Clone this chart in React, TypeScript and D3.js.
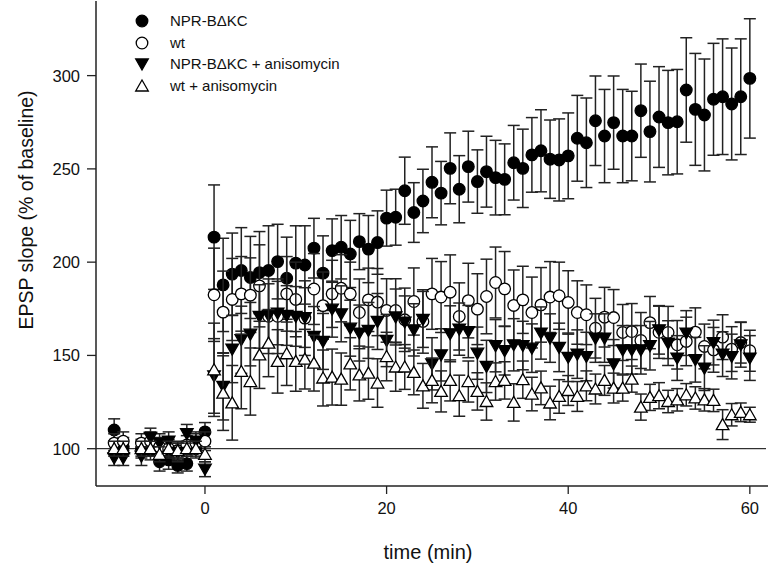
import React from 'react';
import * as d3 from 'd3';

// ---------- data ----------
const baselineTime = [-10, -9, -7, -6, -5, -4, -3, -2, -1, 0];
const postTime = [
  1, 2, 3, 4, 5, 6, 7, 8, 9, 10, 11, 12, 13, 14, 15, 16, 17, 18, 19, 20,
  21, 22, 23, 24, 25, 26, 27, 28, 29, 30, 31, 32, 33, 34, 35, 36, 37, 38, 39, 40,
  41, 42, 43, 44, 45, 46, 47, 48, 49, 50, 51, 52, 53, 54, 55, 56, 57, 58, 59, 60,
];

const nprBaseline = [110, 101, 100, 99, 93, 94, 91, 92, 100, 109];
const nprBaselineErr = [6, 5, 5, 5, 5, 5, 4, 4, 5, 5];
const nprPost = [
  213.4, 187.8, 193.6, 195.5, 191.8, 194.4, 195.5, 200.3, 191.4, 199.5,
  198.5, 207.5, 194.1, 206.2, 208, 204.4, 211, 207, 210.5, 223.6,
  224.1, 238.3, 226.6, 232.8, 242.8, 237, 250.3, 239.1, 251.2, 243.2,
  248.5, 245.3, 244.4, 253.3, 250.3, 257.5, 259.7, 255.2, 254.8, 257,
  266.4, 264, 275.8, 267.6, 274.8, 267.6, 267.6, 281.2, 270, 277.8,
  274.8, 275.3, 292.3, 281.9, 278.9, 287.3, 288.7, 284.8, 288.7, 298.5,
];
const nprPostErr = [
  28, 25, 22, 23, 22, 22, 24, 20, 22, 20,
  21, 16, 20, 17, 17, 18, 15, 18, 17, 15,
  15, 18, 16, 17, 19, 17, 19, 18, 19, 17,
  19, 20, 19, 20, 21, 20, 22, 21, 22, 23,
  23, 24, 24, 25, 25, 25, 24, 25, 27, 27,
  28, 28, 28, 30, 30, 30, 31, 30, 31, 32,
];

const wtBaseline = [103, 104, 103, 104, 101, 100, 99, 102, 103, 104];
const wtBaselineErr = [5, 5, 5, 5, 5, 5, 5, 5, 5, 5];
const wtPost = [
  182.5, 173.2, 180, 183, 182.3, 187.3, 171, 171, 183, 180,
  170, 185.6, 176.7, 183, 186, 183, 173, 179.8, 178.6, 174.1,
  174.1, 169.1, 178.9, 168.2, 183, 181.3, 183.9, 170.9, 179.4, 174.8,
  181.6, 189.1, 185.7, 176.8, 179.8, 173, 177.1, 181.3, 182, 178.4,
  173, 171.8, 164.6, 170.5, 170.3, 162.3, 162.8, 158, 167.6, 162.4,
  162.3, 155.7, 157.5, 162.5, 154.8, 153, 159.8, 153.4, 156.9, 152.5,
];
const wtPostErr = [
  25, 22, 22, 20, 20, 22, 20, 20, 20, 20,
  20, 19, 18, 18, 18, 17, 18, 17, 18, 17,
  17, 17, 18, 17, 19, 19, 20, 18, 20, 19,
  20, 19, 20, 19, 18, 19, 20, 19, 18, 17,
  17, 16, 16, 16, 15, 15, 15, 15, 14, 14,
  14, 13, 13, 13, 12, 12, 12, 12, 11, 11,
];

const nprAnisoBaseline = [95, 95, 96, 106, 103, 104, 98, 108, 104, 89];
const nprAnisoBaselineErr = [4, 4, 5, 5, 5, 5, 5, 5, 5, 4];
const nprAnisoPost = [
  139, 133.4, 153.4, 158.4, 161.4, 170.9, 171.4, 172.7, 171.4, 170.9,
  170.3, 160.2, 157.5, 174.8, 172.3, 164.6, 162, 163.4, 168.2, 158,
  170.6, 167.9, 163.7, 169.3, 145.5, 150.3, 161.6, 164.1, 162.8, 151.2,
  144.1, 155.2, 152.5, 155.7, 155.3, 153.9, 162, 159.3, 154.3, 149,
  150.7, 149.4, 159.3, 159.3, 145.5, 153, 153, 153, 155.2, 163.7,
  156.6, 148.6, 162, 147.7, 143.2, 156.9, 150.7, 149.4, 155.7, 148.6,
];
const nprAnisoPostErr = [
  20, 18, 18, 18, 17, 17, 17, 17, 16, 16,
  16, 16, 15, 15, 15, 15, 15, 15, 15, 14,
  15, 14, 14, 15, 14, 14, 15, 14, 14, 14,
  14, 14, 13, 14, 13, 13, 14, 13, 13, 13,
  13, 13, 13, 13, 13, 13, 13, 13, 13, 13,
  12, 12, 12, 12, 12, 12, 12, 12, 12, 12,
];

const wtAnisoBaseline = [100, 100, 100, 100, 97, 100, 99, 100, 100, 97];
const wtAnisoBaselineErr = [4, 4, 4, 4, 4, 4, 4, 4, 4, 4];
const wtAnisoPost = [
  142.3, 129.8, 124.6, 141.4, 136, 150.3, 156.6, 146.8, 150.9, 146.8,
  148, 145.9, 137.9, 138.4, 137.3, 145.5, 139.6, 140.5, 135.2, 149.4,
  143.8, 143.8, 140.9, 133.7, 136.6, 130.7, 136.6, 128.4, 136, 130.7,
  125.3, 136, 136.6, 124.8, 137, 129.3, 132.6, 124.5, 128, 131.2,
  128, 133.7, 132, 136.6, 132.5, 132.5, 137.3, 122.3, 127.5, 128.4,
  125.3, 126.2, 128.9, 127.2, 126.2, 125.9, 112.9, 118.2, 119.5, 118.2,
];
const wtAnisoPostErr = [
  25, 20, 20, 20, 18, 18, 18, 17, 17, 16,
  16, 15, 15, 15, 14, 14, 14, 14, 13, 13,
  13, 12, 12, 12, 12, 11, 11, 11, 11, 10,
  10, 10, 10, 10, 10, 9, 9, 9, 9, 8,
  8, 8, 8, 8, 8, 7, 7, 7, 7, 7,
  6, 6, 6, 6, 6, 6, 8, 6, 5, 4,
];

const seriesNames = ['NPR-B\u0394KC', 'wt', 'NPR-B\u0394KC + anisomycin', 'wt + anisomycin'];
const xTicks = [0, 20, 40, 60];
const yTicks = [100, 150, 200, 250, 300];
const xTitle = 'time (min)';
const yTitle = 'EPSP slope (% of baseline)';

// ---------- layout ----------
const W = 770;
const H = 566;
const left = 96;
const right = 768;
const top = 1;
const bottom = 486;

const x = d3.scaleLinear().domain([-12, 62]).range([left, right]);
const y = d3.scaleLinear().domain([80, 340]).range([bottom, top]);

type Shape = 'circle' | 'down' | 'up';
const seriesStyle: { shape: Shape; fill: string }[] = [
  { shape: 'circle', fill: '#000' },
  { shape: 'circle', fill: '#fff' },
  { shape: 'down', fill: '#000' },
  { shape: 'up', fill: '#fff' },
];

const seriesData = [
  { base: nprBaseline, baseErr: nprBaselineErr, post: nprPost, postErr: nprPostErr },
  { base: wtBaseline, baseErr: wtBaselineErr, post: wtPost, postErr: wtPostErr },
  { base: nprAnisoBaseline, baseErr: nprAnisoBaselineErr, post: nprAnisoPost, postErr: nprAnisoPostErr },
  { base: wtAnisoBaseline, baseErr: wtAnisoBaselineErr, post: wtAnisoPost, postErr: wtAnisoPostErr },
];

const FONT = "'Liberation Sans', Arial, Helvetica, sans-serif";
const LINE = '#222';

function Marker({ shape, fill, cx, cy }: { shape: Shape; fill: string; cx: number; cy: number }) {
  if (shape === 'circle') {
    return <circle cx={cx} cy={cy} r={5.8} fill={fill} stroke="#000" strokeWidth={1.3} />;
  }
  const hw = 6.3;
  const p =
    shape === 'up'
      ? `M${cx},${cy - 6} L${cx + hw},${cy + 5} L${cx - hw},${cy + 5} Z`
      : `M${cx},${cy + 6} L${cx + hw},${cy - 5} L${cx - hw},${cy - 5} Z`;
  return <path d={p} fill={fill} stroke="#000" strokeWidth={1.3} strokeLinejoin="miter" />;
}

export default function App() {
  const legendY = [21, 43, 64, 86];
  return (
    <svg
      width={W}
      height={H}
      viewBox={`0 0 ${W} ${H}`}
      style={{ position: 'absolute', left: 0, top: 0, background: '#fff' }}
      fontFamily={FONT}
    >
      <rect x={0} y={0} width={W} height={H} fill="#fff" />
      {/* reference line at 100 */}
      <line x1={left} x2={right - 2} y1={y(100)} y2={y(100)} stroke="#000" strokeWidth={1} />

      {/* series */}
      {seriesData.map((s, si) => {
        const times = [...baselineTime, ...postTime];
        const vals = [...s.base, ...s.post];
        const errs = [...s.baseErr, ...s.postErr];
        const st = seriesStyle[si];
        return (
          <g key={si}>
            {times.map((t, i) => {
              const cx = x(t);
              const y1 = y(vals[i] + errs[i]);
              const y2 = y(vals[i] - errs[i]);
              return (
                <g key={'e' + i} stroke={LINE} strokeWidth={1.5}>
                  <line x1={cx} x2={cx} y1={y1} y2={y2} />
                  <line x1={cx - 6} x2={cx + 6} y1={y1} y2={y1} />
                  <line x1={cx - 6} x2={cx + 6} y1={y2} y2={y2} />
                </g>
              );
            })}
            {times.map((t, i) => (
              <Marker key={'m' + i} shape={st.shape} fill={st.fill} cx={x(t)} cy={y(vals[i])} />
            ))}
          </g>
        );
      })}

      {/* axes */}
      <line x1={left} x2={left} y1={top} y2={bottom} stroke={LINE} strokeWidth={1.5} />
      <line x1={left} x2={right} y1={bottom} y2={bottom} stroke={LINE} strokeWidth={1.5} />
      {yTicks.map((v) => (
        <g key={'yt' + v}>
          <line x1={left - 9} x2={left} y1={y(v)} y2={y(v)} stroke={LINE} strokeWidth={1.3} />
          <text x={80} y={y(v)} dy="0.36em" textAnchor="end" fontSize={16.5} fill="#111">
            {v}
          </text>
        </g>
      ))}
      {xTicks.map((v) => (
        <g key={'xt' + v}>
          <line x1={x(v)} x2={x(v)} y1={bottom} y2={bottom + 8} stroke={LINE} strokeWidth={1.3} />
          <text x={x(v)} y={514} textAnchor="middle" fontSize={16.5} fill="#111">
            {v}
          </text>
        </g>
      ))}
      <text x={428} y={559} textAnchor="middle" fontSize={20} fill="#111">
        {xTitle}
      </text>
      <text
        transform={`translate(33, 210) rotate(-90)`}
        textAnchor="middle"
        fontSize={19.5}
        fill="#111"
      >
        {yTitle}
      </text>

      {/* legend */}
      {seriesNames.map((n, i) => (
        <g key={'lg' + i}>
          <Marker shape={seriesStyle[i].shape} fill={seriesStyle[i].fill} cx={142} cy={legendY[i]} />
          <text x={170} y={legendY[i]} dy="0.36em" fontSize={15} fill="#111">
            {n}
          </text>
        </g>
      ))}
    </svg>
  );
}
